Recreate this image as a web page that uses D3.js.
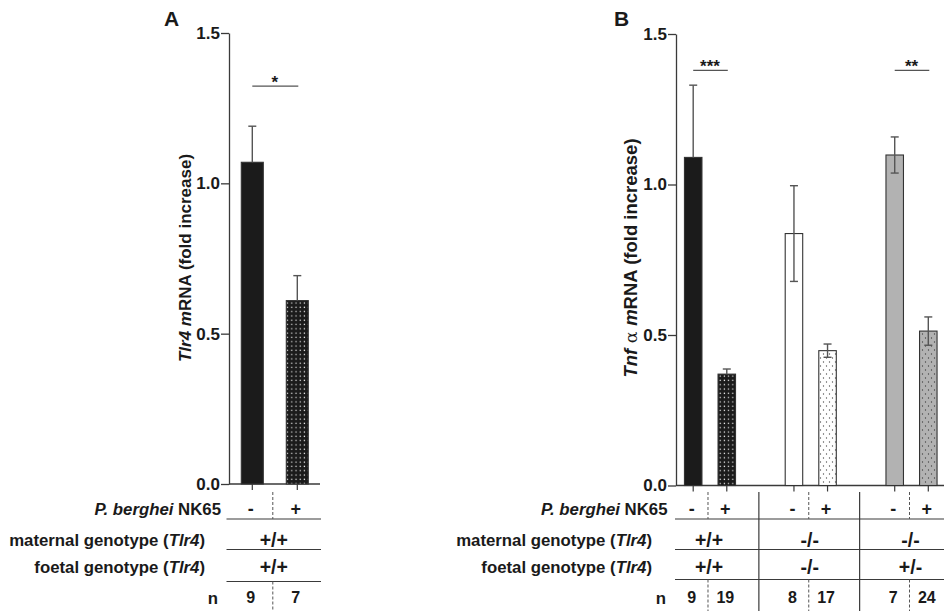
<!DOCTYPE html>
<html><head><meta charset="utf-8">
<script src="https://cdn.jsdelivr.net/npm/d3@7"></script>
<style>
body{margin:0;background:#fff}
svg{display:block}
text{font-family:"Liberation Sans",Arial,sans-serif;font-weight:bold;fill:#1a1a1a}
</style>
</head><body>
<svg id="c" width="944" height="611"></svg>
<script>
// ---------------- data ----------------
const yTicks = [0, 0.5, 1.0, 1.5];
const infection = ["-", "+"];

// Panel A : Tlr4 mRNA
const aMeans = [1.07, 0.61];
const aSem = [0.12, 0.083];
const aN = [9, 7];
const aMaternal = ["+/+"];
const aFoetal = ["+/+"];
const aSig = [{from: 0, to: 1, label: "*", level: 1.323}];

// Panel B : Tnf alpha mRNA
const bMeans = [1.09, 0.37, 0.837, 0.448, 1.098, 0.513];
const bSem = [0.24, 0.017, 0.159, 0.022, 0.06, 0.047];
const bN = [9, 19, 8, 17, 7, 24];
const bMaternal = ["+/+", "-/-", "-/-"];
const bFoetal = ["+/+", "-/-", "+/-"];
const bSig = [{from: 0, to: 1, label: "***", level: 1.379}, {from: 4, to: 5, label: "**", level: 1.379}];

// ---------------- styles ----------------
const svg = d3.select("#c");
const defs = svg.append("defs");
function dotPattern(id, bg, dot, w, h, pts, r) {
  const p = defs.append("pattern").attr("id", id).attr("patternUnits", "userSpaceOnUse")
    .attr("width", w).attr("height", h);
  p.append("rect").attr("width", w).attr("height", h).attr("fill", bg);
  pts.forEach(q => p.append("circle").attr("cx", q[0]).attr("cy", q[1]).attr("r", r).attr("fill", dot));
}
dotPattern("dBlack", "#1b1b1b", "#f2f2f2", 4.2, 4.3, [[2, 2]], 0.7);
dotPattern("dWhite", "#ffffff", "#555", 6, 8, [[1.5, 2], [4.5, 6]], 0.65);
dotPattern("dGrey", "#b2b2b2", "#444", 6, 8, [[1.5, 2], [4.5, 6]], 0.65);

const aFills = ["#1b1b1b", "url(#dBlack)"];
const aDark = [true, true];
const bFills = ["#1b1b1b", "url(#dBlack)", "#ffffff", "url(#dWhite)", "#b2b2b2", "url(#dGrey)"];
const bDark = [true, true, false, false, false, false];

const lineCol = "#3a3a3a";
const errCol = "#555";

function drawPanel(cfg) {
  const g = svg.append("g");
  const y = d3.scaleLinear().domain([0, 1.5]).range([cfg.y0, cfg.y15]);
  const x = d3.scaleLinear().domain([0, cfg.lastSlot]).range([cfg.c0, cfg.c1]);
  const bw = cfg.barWidth;

  // y axis
  const ax = g.append("g").attr("transform", `translate(${cfg.axisX},0)`)
    .call(d3.axisLeft(y).tickValues(yTicks).tickFormat(d3.format(".1f")).tickSize(8).tickPadding(1).tickSizeOuter(0));
  ax.select(".domain").attr("stroke", lineCol).attr("stroke-width", 1.3);
  ax.selectAll(".tick line").attr("stroke", lineCol).attr("stroke-width", 1.3);
  ax.selectAll(".tick text").attr("font-size", 17).attr("font-family", null).attr("fill", "#1a1a1a");

  // x axis line + ticks
  g.append("line").attr("x1", cfg.axisX).attr("x2", cfg.xEnd).attr("y1", y(0)).attr("y2", y(0))
    .attr("stroke", lineCol).attr("stroke-width", 1.3);
  g.selectAll(".xt").data(cfg.slots).enter().append("line")
    .attr("x1", d => x(d)).attr("x2", d => x(d)).attr("y1", y(0)).attr("y2", y(0) + 6)
    .attr("stroke", lineCol).attr("stroke-width", 1.2);

  // bars
  cfg.means.forEach((m, i) => {
    const cx = x(cfg.slots[i]);
    g.append("rect").attr("x", cx - bw / 2).attr("y", y(m)).attr("width", bw).attr("height", y(0) - y(m))
      .attr("fill", cfg.fills[i]).attr("stroke", "#333").attr("stroke-width", 1.1);
    const top = y(m + cfg.sem[i]);
    const bot = cfg.dark[i] ? y(m) : y(m - cfg.sem[i]);
    g.append("line").attr("x1", cx).attr("x2", cx).attr("y1", top).attr("y2", bot)
      .attr("stroke", errCol).attr("stroke-width", 1.4);
    g.append("line").attr("x1", cx - 4).attr("x2", cx + 4).attr("y1", top).attr("y2", top)
      .attr("stroke", errCol).attr("stroke-width", 1.4);
    if (!cfg.dark[i]) {
      g.append("line").attr("x1", cx - 4).attr("x2", cx + 4).attr("y1", bot).attr("y2", bot)
        .attr("stroke", errCol).attr("stroke-width", 1.4);
    }
  });

  // significance
  cfg.sig.forEach(s => {
    const xa = x(cfg.slots[s.from]), xb = x(cfg.slots[s.to]);
    g.append("line").attr("x1", xa).attr("x2", xb + 1).attr("y1", y(s.level)).attr("y2", y(s.level))
      .attr("stroke", "#555").attr("stroke-width", 1.3);
    g.append("text").attr("x", (xa + xb) / 2).attr("y", y(s.level) + 2).attr("text-anchor", "middle")
      .attr("font-size", 17).text(s.label);
  });

  // y label
  const yl = g.append("text").attr("transform", `translate(${cfg.ylabX},${cfg.ylabY}) rotate(-90)`)
    .attr("text-anchor", "middle").attr("font-size", cfg.ylabSize);
  cfg.ylabParts.forEach(p => {
    const t = yl.append("tspan").text(p.t);
    if (p.i) t.attr("font-style", "italic");
    if (p.serif) t.attr("font-family", "'DejaVu Serif',serif").attr("font-weight", "normal").attr("font-size", cfg.ylabSize - 1);
  });

  // panel letter
  g.append("text").attr("x", cfg.letterX).attr("y", 26).attr("font-size", 21).text(cfg.letter);

  // table
  const T = cfg.table;
  const rows = [509, 540, 567, 597.5];
  const labSize = 16.8;
  const l1 = g.append("text").attr("x", T.lab1).attr("y", rows[0]).attr("dy", "0.36em").attr("text-anchor", "end").attr("font-size", labSize);
  l1.append("tspan").attr("font-style", "italic").text("P. berghei");
  l1.append("tspan").text(" NK65");
  [["maternal genotype (", rows[1]], ["foetal genotype (", rows[2]]].forEach(r => {
    const t = g.append("text").attr("x", T.lab2).attr("y", r[1]).attr("dy", "0.36em").attr("text-anchor", "end").attr("font-size", labSize);
    t.append("tspan").text(r[0]);
    t.append("tspan").attr("font-style", "italic").text("Tlr4");
    t.append("tspan").text(")");
  });
  g.append("text").attr("x", T.labN).attr("y", rows[3]).attr("dy", "0.36em").attr("text-anchor", "end").attr("font-size", labSize).text("n");

  // horizontal lines
  [519, 549.5, cfg.line3].forEach(ly => g.append("line").attr("x1", T.hx1).attr("x2", T.hx2).attr("y1", ly).attr("y2", ly)
    .attr("stroke", lineCol).attr("stroke-width", 1.2));

  const nGroups = cfg.maternal.length;
  for (let k = 0; k < nGroups; k++) {
    const s0 = cfg.slots[2 * k], s1 = cfg.slots[2 * k + 1];
    const mid = (x(s0) + x(s1)) / 2;
    [0, 1].forEach(j => {
      const cx = x(cfg.slots[2 * k + j]) - 1.5;
      g.append("text").attr("x", cx).attr("y", rows[0]).attr("dy", "0.36em").attr("text-anchor", "middle").attr("font-size", 18).text(infection[j]);
      g.append("text").attr("x", cx).attr("y", rows[3]).attr("dy", "0.36em").attr("text-anchor", "middle").attr("font-size", 16).text(cfg.n[2 * k + j]);
    });
    g.append("text").attr("x", mid - 1).attr("y", rows[1]).attr("dy", "0.36em").attr("text-anchor", "middle").attr("font-size", 19.5).text(cfg.maternal[k]);
    g.append("text").attr("x", mid - 1).attr("y", rows[2]).attr("dy", "0.36em").attr("text-anchor", "middle").attr("font-size", 19.5).text(cfg.foetal[k]);
    [[492, 519], [cfg.line3, 611]].forEach(seg => g.append("line").attr("x1", mid - 2).attr("x2", mid - 2)
      .attr("y1", seg[0]).attr("y2", seg[1]).attr("stroke", "#555").attr("stroke-width", 1).attr("stroke-dasharray", "3,2"));
    if (k > 0) {
      const sx = (x(cfg.slots[2 * k - 1]) + x(s0)) / 2 - 1.5;
      g.append("line").attr("x1", sx).attr("x2", sx).attr("y1", 492).attr("y2", 611)
        .attr("stroke", lineCol).attr("stroke-width", 1.2);
    }
  }
}

drawPanel({
  axisX: 229, y0: 484, y15: 33, lastSlot: 1, c0: 252.3, c1: 297.3, slots: [0, 1], barWidth: 22,
  xEnd: 320, means: aMeans, sem: aSem, n: aN, fills: aFills, dark: aDark, sig: aSig,
  maternal: aMaternal, foetal: aFoetal, line3: 581.5,
  ylabX: 191, ylabY: 258, ylabSize: 17,
  ylabParts: [{t: "Tlr4", i: true}, {t: " "}, {t: "m", i: true}, {t: "RNA (fold increase)"}],
  letter: "A", letterX: 164,
  table: {lab1: 221, lab2: 205, labN: 218, hx1: 226.5, hx2: 321}
});

drawPanel({
  axisX: 676, y0: 485.5, y15: 34, lastSlot: 7, c0: 693.2, c1: 928.3, slots: [0, 1, 3, 4, 6, 7], barWidth: 17.5,
  xEnd: 944, means: bMeans, sem: bSem, n: bN, fills: bFills, dark: bDark, sig: bSig,
  maternal: bMaternal, foetal: bFoetal, line3: 579.5,
  ylabX: 637, ylabY: 258, ylabSize: 18.5,
  ylabParts: [{t: "Tnf", i: true}, {t: "  α  ", serif: true}, {t: "m", i: true}, {t: "RNA (fold increase)"}],
  letter: "B", letterX: 614,
  table: {lab1: 667.5, lab2: 652, labN: 666, hx1: 675, hx2: 944}
});
</script>
</body></html>
